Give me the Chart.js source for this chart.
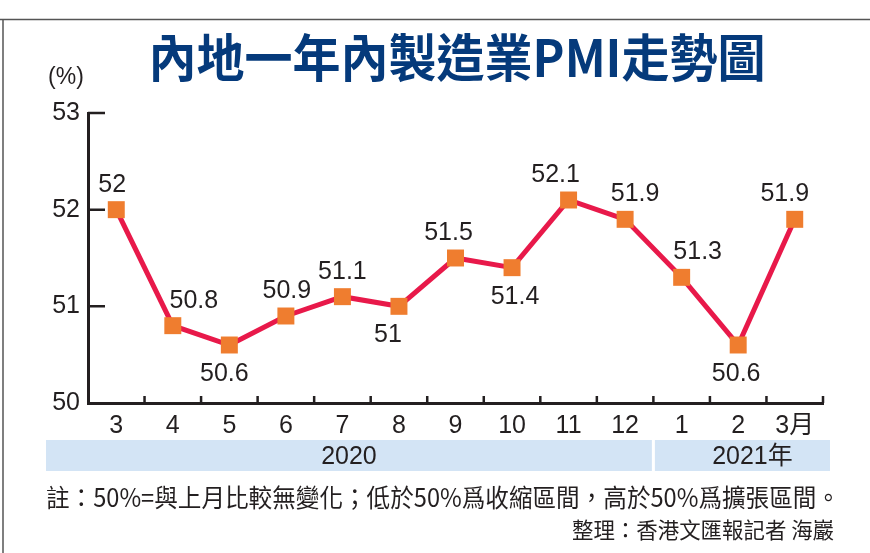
<!DOCTYPE html>
<html>
<head>
<meta charset="utf-8">
<script src="https://cdn.jsdelivr.net/npm/chart.js@4/dist/chart.umd.min.js"></script>
<style>
html,body{margin:0;padding:0;background:#fff;}
canvas{display:block;}
</style>
</head>
<body>
<canvas id="c" width="870" height="553"></canvas>
<script>
// ---- data ----
const categories = ['3','4','5','6','7','8','9','10','11','12','1','2','3月'];
const pmiValues = [52, 50.8, 50.6, 50.9, 51.1, 51, 51.5, 51.4, 52.1, 51.9, 51.3, 50.6, 51.9];
const yTickValues = [50, 51, 52, 53];
const yearGroups = ['2020', '2021年'];
const yearGroupSize = [10, 3];
const titleText = '內地一年內製造業PMI走勢圖';
const unitText = '(%)';
const noteText = '註：50%=與上月比較無變化；低於50%爲收縮區間，高於50%爲擴張區間。';
const creditText = '整理：香港文匯報記者 海巖';

// ---- label placement (style, not data) ----
const labelBelow = [false,false,true,false,false,true,false,true,false,false,false,true,false];
const labelShiftX = [-4,21,-5,1,0,-11,-7,3,-13,10,16,-2,-10];

const INK = '#231f20';
const NUM_FONT = "'Liberation Sans Narrow', 'Liberation Sans', 'Noto Sans CJK TC', sans-serif";
const CJK_FONT = "'Noto Sans CJK TC', 'Noto Sans CJK SC', sans-serif";

const decor = {
  id: 'decor',
  beforeDraw(chart) {
    const ctx = chart.ctx;
    ctx.save();
    ctx.fillStyle = '#fff';
    ctx.fillRect(0, 0, chart.width, chart.height);
    // frame
    ctx.strokeStyle = '#555';
    ctx.lineWidth = 1.5;
    ctx.beginPath();
    ctx.moveTo(0, 19.5); ctx.lineTo(870, 19.5);
    ctx.moveTo(3, 19.5); ctx.lineTo(3, 553);
    ctx.stroke();
    // title
    ctx.fillStyle = '#053a7b';
    ctx.font = "bold 51px " + CJK_FONT;
    ctx.textAlign = 'center';
    ctx.textBaseline = 'middle';
    ctx.fillText(titleText, 457, 58, 617);
    // unit
    ctx.fillStyle = INK;
    ctx.font = "23px " + NUM_FONT;
    ctx.fillText(unitText, 66, 78);
    // year bands
    const x = chart.scales.x;
    const split = (x.getPixelForValue(yearGroupSize[0] - 1) + x.getPixelForValue(yearGroupSize[0])) / 2;
    const bands = [[46, split - 1.5], [split + 1.5, 830]];
    ctx.fillStyle = '#d3e4f5';
    bands.forEach(b => ctx.fillRect(b[0], 440, b[1] - b[0], 31));
    ctx.fillStyle = INK;
    ctx.font = "25px " + NUM_FONT;
    ctx.fillText(yearGroups[0], (bands[0][0] + bands[0][1]) / 2, 457);
    ctx.fillText(yearGroups[1], (bands[1][0] + bands[1][1]) / 2 + 10, 457);
    // footnote
    ctx.textAlign = 'left';
    ctx.font = "25px " + CJK_FONT;
    ctx.fillText(noteText, 46, 497, 794);
    ctx.textAlign = 'right';
    ctx.font = "22px " + CJK_FONT;
    ctx.fillText(creditText, 834, 530, 262);
    ctx.restore();
  },
  beforeDatasetsDraw(chart) {
    const ctx = chart.ctx;
    const x = chart.scales.x, y = chart.scales.y;
    const a = chart.chartArea;
    ctx.save();
    ctx.strokeStyle = INK;
    ctx.lineWidth = 2.5;
    ctx.beginPath();
    yTickValues.forEach(v => {
      if (v === yTickValues[0]) return;
      const py = y.getPixelForValue(v);
      ctx.moveTo(a.left, py); ctx.lineTo(a.left + 17, py);
    });
    for (let i = 1; i <= categories.length; i++) {
      const px = i < categories.length
        ? (x.getPixelForValue(i - 1) + x.getPixelForValue(i)) / 2
        : a.right;
      ctx.moveTo(px, a.bottom); ctx.lineTo(px, a.bottom - 7);
    }
    ctx.stroke();
    ctx.restore();
  },
  afterDatasetsDraw(chart) {
    const ctx = chart.ctx;
    const meta = chart.getDatasetMeta(0);
    ctx.save();
    ctx.fillStyle = INK;
    ctx.font = "25px " + NUM_FONT;
    ctx.textAlign = 'center';
    ctx.textBaseline = 'middle';
    meta.data.forEach((pt, i) => {
      const dy = labelBelow[i] ? 29 : -25;
      ctx.fillText(String(pmiValues[i]), pt.x + labelShiftX[i], pt.y + dy);
    });
    ctx.restore();
  }
};

new Chart(document.getElementById('c'), {
  type: 'line',
  data: {
    labels: categories,
    datasets: [{
      data: pmiValues,
      borderColor: '#e8194a',
      borderWidth: 5,
      tension: 0,
      pointStyle: 'rect',
      pointRadius: 12,
      pointHoverRadius: 12,
      pointBackgroundColor: '#ef7d2f',
      pointBorderWidth: 0,
      clip: false
    }]
  },
  options: {
    responsive: false,
    animation: false,
    events: [],
    layout: { padding: { top: 113, right: 47, left: 0, bottom: 0 } },
    plugins: { legend: { display: false }, tooltip: { enabled: false }, title: { display: false } },
    scales: {
      x: {
        type: 'category',
        offset: true,
        grid: { display: false, drawTicks: false },
        border: { display: true, color: INK, width: 3 },
        ticks: { color: INK, font: { family: NUM_FONT, size: 25 }, padding: 8, maxRotation: 0, autoSkip: false },
        afterFit(s) { s.height = 150; }
      },
      y: {
        min: yTickValues[0],
        max: yTickValues[yTickValues.length - 1],
        grid: { display: false, drawTicks: false },
        border: { display: true, color: INK, width: 3 },
        ticks: { stepSize: 1, color: INK, font: { family: NUM_FONT, size: 25 }, padding: 8 },
        afterFit(s) { s.width = 88; }
      }
    }
  },
  plugins: [decor]
});
</script>
</body>
</html>
